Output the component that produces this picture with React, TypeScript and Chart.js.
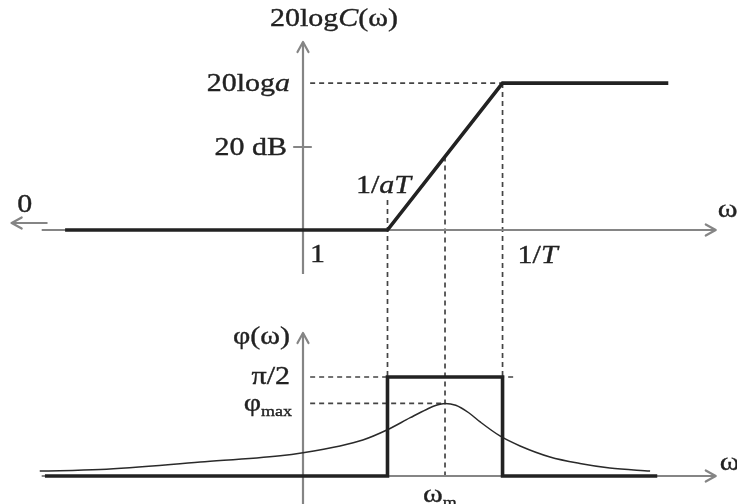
import { useEffect, useRef } from "react";
import { Chart, registerables } from "chart.js";

Chart.register(...registerables);

// Frequency axis is in decades of ω (log10 ω), with ω = 1 at 0.
const W_CORNER_LOW = 1.3; // 1/aT
const W_CORNER_HIGH = 3.07; // 1/T
const W_PEAK = 2.185; // ω_m
const MAG_HIGH = 35.4; // 20 log a, dB
const MAG_TICK = 20; // dB
const PHASE_STEP = 90; // π/2, degrees
const PHASE_MAX = 66; // φ_max, degrees

// Asymptotic magnitude
const magW = [-3.66, W_CORNER_LOW, W_CORNER_HIGH, 5.62];
const magDb = [0, 0, MAG_HIGH, MAG_HIGH];

// Step phase approximation
const stepW = [-3.97, W_CORNER_LOW, W_CORNER_LOW, W_CORNER_HIGH, W_CORNER_HIGH, 5.45];
const stepDeg = [0, 0, PHASE_STEP, PHASE_STEP, 0, 0];

// Phase curve
const phaseW = [-4.05, -3.12, -1.58, -0.35, 0, 0.57, 0.92, 1.29, 1.65, 1.9, 2.05, W_PEAK, 2.35, 2.55, 2.72, 3.03, 3.34, 3.8, 4.26, 4.72, 5.34];
const phaseDeg = [4.5, 5.9, 12.7, 18.5, 21.2, 27.3, 32.7, 41.8, 53, 60.5, 64.3, PHASE_MAX, 64.3, 57.5, 49.4, 36.4, 27.3, 17.3, 11.4, 7.3, 4.5];

// Axis extents
const AXIS_W = [-4.02, 6.35];
const MAG_AXIS = [-10.6, 45.3];
const PH_AXIS = [-26, 130];
const GUIDE_START_W = 0.11;
const STEP_GUIDE_END_W = 3.27;

const AXIS_COLOR = "#858585";
const INK = "#222222";
const DASH_COLOR = "#444444";
const TEXT_COLOR = "#222222";
const FONT_SIZE = 25;
const TEXT_SX = 1.2;

const pts = (xs: number[], ys: number[]) => xs.map((x, i) => ({ x, y: ys[i] }));

type Run = { t: string; it?: boolean; size?: number; dy?: number };

function drawRuns(ctx: CanvasRenderingContext2D, runs: Run[], x: number, y: number, align: "left" | "right" | "center") {
  const fontOf = (r: Run) =>
    `${r.it ? "italic " : ""}${r.size ?? FONT_SIZE}px "Liberation Serif", "Times New Roman", serif`;
  let w = 0;
  for (const r of runs) {
    ctx.font = fontOf(r);
    w += ctx.measureText(r.t).width;
  }
  ctx.save();
  ctx.translate(x, y);
  ctx.scale(TEXT_SX, 1);
  ctx.fillStyle = TEXT_COLOR;
  ctx.strokeStyle = TEXT_COLOR;
  ctx.lineWidth = 0.35;
  ctx.textAlign = "left";
  ctx.textBaseline = "alphabetic";
  let cx = align === "left" ? 0 : align === "right" ? -w : -w / 2;
  for (const r of runs) {
    ctx.font = fontOf(r);
    ctx.fillText(r.t, cx, r.dy ?? 0);
    ctx.strokeText(r.t, cx, r.dy ?? 0);
    cx += ctx.measureText(r.t).width;
  }
  ctx.restore();
}

function chevron(ctx: CanvasRenderingContext2D, tx: number, ty: number, dir: "up" | "right" | "left") {
  const L = 10;
  const H = 5.5;
  ctx.beginPath();
  if (dir === "up") {
    ctx.moveTo(tx - H, ty + L);
    ctx.lineTo(tx, ty);
    ctx.lineTo(tx + H, ty + L);
  } else if (dir === "right") {
    ctx.moveTo(tx - L, ty - H);
    ctx.lineTo(tx, ty);
    ctx.lineTo(tx - L, ty + H);
  } else {
    ctx.moveTo(tx + L, ty - H);
    ctx.lineTo(tx, ty);
    ctx.lineTo(tx + L, ty + H);
  }
  ctx.stroke();
}

const bodePlugin = {
  id: "bodeDecor",
  beforeDatasetsDraw(chart: any) {
    const ctx: CanvasRenderingContext2D = chart.ctx;
    const xs = chart.scales.x;
    const ym = chart.scales.yMag;
    const yp = chart.scales.yPh;
    const px = (v: number) => xs.getPixelForValue(v);
    const pm = (v: number) => ym.getPixelForValue(v);
    const pp = (v: number) => yp.getPixelForValue(v);

    // vertical guides linking both panels
    const slopeAtPeak = (MAG_HIGH * (W_PEAK - W_CORNER_LOW)) / (W_CORNER_HIGH - W_CORNER_LOW);
    const guides: [number, number, number][] = [
      [W_CORNER_LOW, pm(7.2), pp(PHASE_STEP)],
      [W_CORNER_HIGH, pm(MAG_HIGH), pp(PHASE_STEP)],
      [W_PEAK, pm(slopeAtPeak), pp(0)],
    ];
    ctx.save();
    ctx.strokeStyle = DASH_COLOR;
    ctx.lineWidth = 1.7;
    ctx.setLineDash([5, 4]);
    for (const [w, y0, y1] of guides) {
      ctx.beginPath();
      ctx.moveTo(px(w), y0);
      ctx.lineTo(px(w), y1);
      ctx.stroke();
    }
    ctx.restore();
  },
  afterDatasetsDraw(chart: any) {
    const ctx: CanvasRenderingContext2D = chart.ctx;
    const xs = chart.scales.x;
    const ym = chart.scales.yMag;
    const yp = chart.scales.yPh;
    const px = (v: number) => xs.getPixelForValue(v);
    const pm = (v: number) => ym.getPixelForValue(v);
    const pp = (v: number) => yp.getPixelForValue(v);

    ctx.save();
    ctx.strokeStyle = AXIS_COLOR;
    ctx.lineWidth = 2.2;
    ctx.lineCap = "round";
    ctx.lineJoin = "round";
    chevron(ctx, px(0), pm(MAG_AXIS[1]), "up");
    chevron(ctx, px(0), pp(PH_AXIS[1]), "up");
    chevron(ctx, px(AXIS_W[1]), pm(0), "right");
    chevron(ctx, px(AXIS_W[1]), pp(0), "right");

    // ω → 0 arrow
    const ya = pm(0) - 7;
    const xl = px(AXIS_W[0]) - 30;
    ctx.beginPath();
    ctx.moveTo(px(AXIS_W[0]) + 5, ya);
    ctx.lineTo(xl, ya);
    ctx.stroke();
    chevron(ctx, xl, ya, "left");

    // 20 dB tick
    ctx.beginPath();
    ctx.moveTo(px(0) - 9, pm(MAG_TICK));
    ctx.lineTo(px(0) + 8, pm(MAG_TICK));
    ctx.stroke();
    ctx.restore();

    // labels
    drawRuns(ctx, [{ t: "20log" }, { t: "C", it: true }, { t: "(ω)" }], px(0) - 33, pm(MAG_AXIS[1]) - 16, "left");
    drawRuns(ctx, [{ t: "20log" }, { t: "a", it: true }], px(0) - 13, pm(MAG_HIGH) + 8, "right");
    drawRuns(ctx, [{ t: "20 dB" }], px(0) - 16, pm(MAG_TICK) + 8, "right");
    drawRuns(ctx, [{ t: "1/" }, { t: "aT", it: true }], px(W_CORNER_LOW) - 4, pm(0) - 37, "center");
    drawRuns(ctx, [{ t: "1" }], px(0) + 7, pm(0) + 32, "left");
    drawRuns(ctx, [{ t: "1/" }, { t: "T", it: true }], px(W_CORNER_HIGH) + 15, pm(0) + 33, "left");
    drawRuns(ctx, [{ t: "0" }], px(AXIS_W[0]) - 17, pm(0) - 18, "center");
    drawRuns(ctx, [{ t: "ω" }], px(AXIS_W[1]) + 2, pm(0) - 13, "left");

    drawRuns(ctx, [{ t: "φ(ω)" }], px(0) - 13, pp(PH_AXIS[1]) + 11, "right");
    drawRuns(ctx, [{ t: "π/2" }], px(0) - 13, pp(PHASE_STEP) + 7, "right");
    drawRuns(ctx, [{ t: "φ" }, { t: "max", size: 15, dy: 5 }], px(0) - 11, pp(PHASE_MAX) + 8, "right");
    drawRuns(ctx, [{ t: "ω" }], px(AXIS_W[1]) + 4, pp(0) - 6, "left");
    drawRuns(ctx, [{ t: "ω" }, { t: "m", size: 15, dy: 5 }], px(W_PEAK) - 22, pp(0) + 26, "left");
  },
};

export default function App() {
  const ref = useRef<HTMLCanvasElement | null>(null);

  useEffect(() => {
    document.body.style.margin = "0";
    const canvas = ref.current;
    if (!canvas) return;

    const thick = { borderColor: INK, borderWidth: 3.6, pointRadius: 0, showLine: true, fill: false, borderJoinStyle: "miter" as const };
    const axis = { borderColor: AXIS_COLOR, borderWidth: 2.2, pointRadius: 0, showLine: true, fill: false };
    const dashed = { borderColor: DASH_COLOR, borderWidth: 1.7, borderDash: [5, 4], pointRadius: 0, showLine: true, fill: false };

    const chart = new Chart(canvas, {
      type: "scatter",
      data: {
        datasets: [
          { ...thick, data: pts(magW, magDb), yAxisID: "yMag" },
          { ...thick, data: pts(stepW, stepDeg), yAxisID: "yPh" },
          {
            data: pts(phaseW, phaseDeg),
            yAxisID: "yPh",
            borderColor: "#2a2a2a",
            borderWidth: 1.5,
            pointRadius: 0,
            showLine: true,
            fill: false,
            cubicInterpolationMode: "monotone",
          },
          { ...dashed, data: pts([GUIDE_START_W, W_CORNER_HIGH], [MAG_HIGH, MAG_HIGH]), yAxisID: "yMag" },
          { ...dashed, data: pts([GUIDE_START_W, STEP_GUIDE_END_W], [PHASE_STEP, PHASE_STEP]), yAxisID: "yPh" },
          { ...dashed, data: pts([GUIDE_START_W, W_PEAK], [PHASE_MAX, PHASE_MAX]), yAxisID: "yPh" },
          { ...axis, data: pts(AXIS_W, [0, 0]), yAxisID: "yMag" },
          { ...axis, data: pts([0, 0], MAG_AXIS), yAxisID: "yMag" },
          { ...axis, data: pts(AXIS_W, [0, 0]), yAxisID: "yPh" },
          { ...axis, data: pts([0, 0], PH_AXIS), yAxisID: "yPh" },
        ],
      },
      options: {
        animation: false,
        responsive: true,
        maintainAspectRatio: false,
        events: [],
        layout: { padding: 0 },
        plugins: { legend: { display: false }, tooltip: { enabled: false } },
        scales: {
          x: { type: "linear", min: -4.6615, max: 6.677, display: false },
          yMag: { type: "linear", position: "left", min: -66.02, max: 55.42, display: false },
          yPh: { type: "linear", position: "left", min: -25.45, max: 432.7, display: false },
        },
      },
      plugins: [bodePlugin],
    });
    return () => chart.destroy();
  }, []);

  return (
    <div style={{ position: "fixed", left: 0, top: 0, width: 737, height: 504, background: "#fff" }}>
      <canvas ref={ref} />
    </div>
  );
}
